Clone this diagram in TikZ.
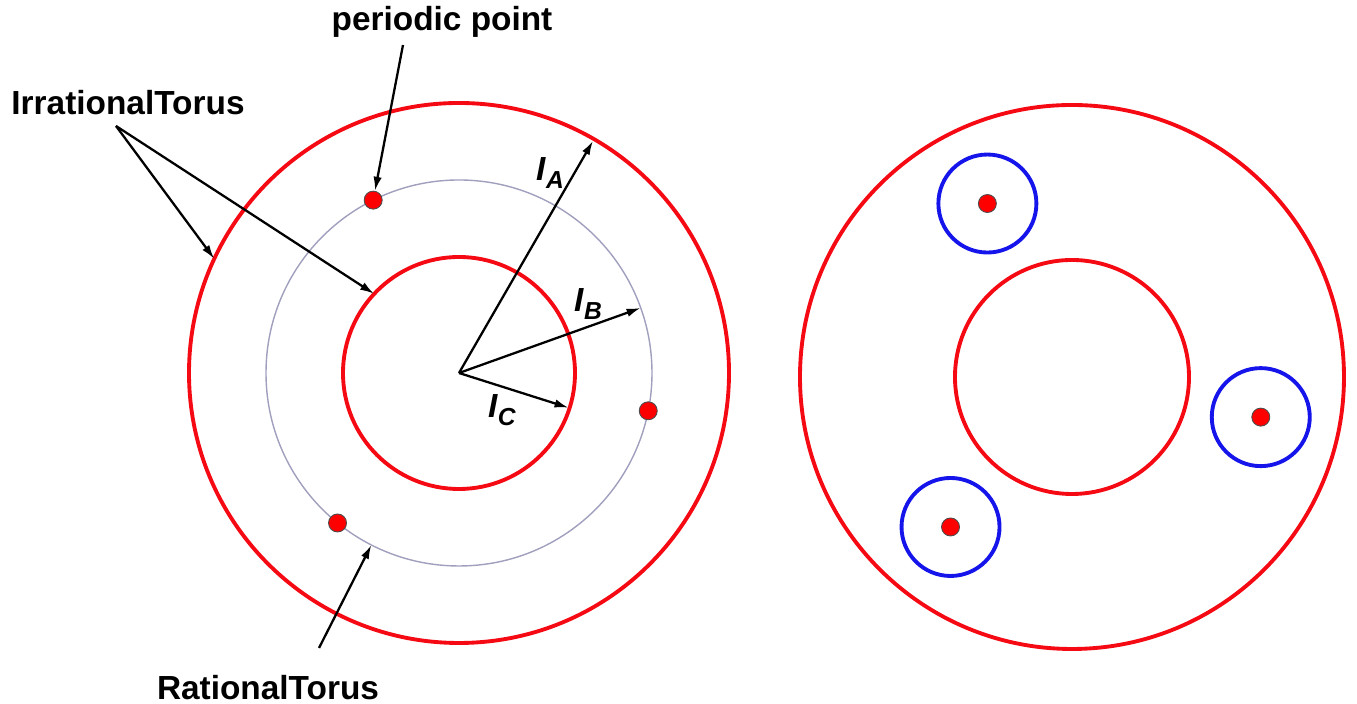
\documentclass[tikz,border=0pt]{standalone}
\usepackage{fontspec}
\setmainfont{Liberation Sans}
\usetikzlibrary{arrows.meta}
\definecolor{torusred}{RGB}{245,10,20}
\definecolor{islandblue}{RGB}{20,20,235}
\definecolor{rationalgray}{RGB}{160,160,190}
\newcommand{\actlabel}[1]{\textit{I}\raisebox{-0.45ex}{\fontsize{7}{8}\selectfont\textit{#1}}}

\begin{document}
\begin{tikzpicture}[x=0.1mm, y=0.1mm,
    every node/.style={font=\bfseries\fontsize{9.5}{11}\selectfont},
    torus/.style={torusred, line width=1.1pt},
    rational/.style={rationalgray, line width=0.4pt},
    island/.style={islandblue, line width=1.1pt},
    dot/.style={circle, draw=black!70, line width=0.25pt, fill=red, inner sep=0pt, minimum size=1.8mm},
    pointer/.style={-{Latex[length=4pt,width=2.4pt]}, line width=0.65pt}]
  \useasboundingbox (0,0) rectangle (1357,704);
  \coordinate (L) at (459,331);
  \coordinate (R) at (1072,327);
  \draw[torus] (L) circle (270);
  \draw[rational] (L) circle (193);
  \draw[torus] (L) circle (116);
  \draw[torus] (R) circle (272);
  \draw[torus] (R) circle (117);
  \foreach \a/\n in {116/1, -12/2, 231/3} {
    \draw[island] (R) ++(\a:193) circle (49);
    \path (R) ++(\a:193) node[dot] (q\n) {};
  }
  \path (L) ++(60:268) coordinate (ia);
  \path (L) ++(19.7:193) coordinate (ib);
  \path (L) ++(-17.6:115) coordinate (ic);
  \path (L) ++(155:270) coordinate (outer);
  \path (L) ++(137:116) coordinate (inner);
  \path (L) ++(243:193) coordinate (rat);
  \draw[pointer] (L) -- (ia);
  \draw[pointer] (L) -- (ib);
  \draw[pointer] (L) -- (ic);
  \node (lA) at (550,531) {\actlabel{A}};
  \node (lB) at (588,400) {\actlabel{B}};
  \node (lC) at (502,294) {\actlabel{C}};
  \node (irr) at (128,601) {IrrationalTorus};
  \node (per) at (442,682) {periodic point};
  \node (rtl) at (268,16) {RationalTorus};
  \coordinate (irrtip) at (116,578);
  \coordinate (pertip) at (403,659);
  \coordinate (rattip) at (319,56);
  \draw[pointer] (irrtip) -- (outer);
  \draw[pointer] (irrtip) -- (inner);
  \draw[pointer] (rattip) -- (rat);
  \path (L) ++(116.4:193) node[dot] (p1) {};
  \path (L) ++(-11.3:193) node[dot] (p2) {};
  \path (L) ++(231:193) node[dot] (p3) {};
  \draw[pointer] (pertip) -- (p1);
\end{tikzpicture}
\end{document}
